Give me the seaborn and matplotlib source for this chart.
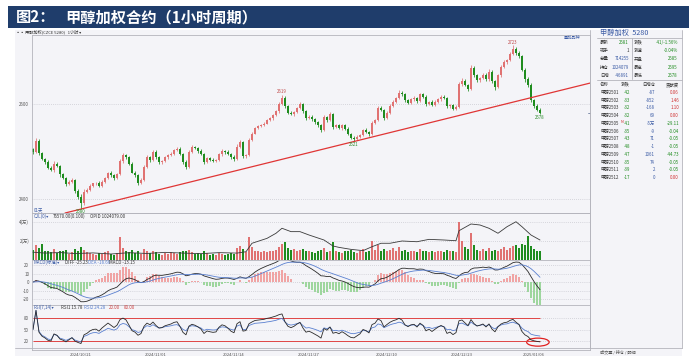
import numpy as np
import pandas as pd
import matplotlib
matplotlib.use('Agg')
import matplotlib.pyplot as plt
import seaborn as sns
from matplotlib.patches import Rectangle, Ellipse
from matplotlib.lines import Line2D

W, H = 689, 356

# 1小时收盘价
close = [2500, 2522, 2497, 2485, 2478, 2466, 2462, 2475, 2470, 2452,
         2445, 2432, 2436, 2440, 2418, 2405, 2392, 2415, 2420, 2428,
         2433, 2434, 2428, 2437, 2445, 2455, 2450, 2445, 2452, 2480,
         2492, 2488, 2475, 2456, 2450, 2435, 2440, 2468, 2488, 2482,
         2500, 2488, 2478, 2480, 2488, 2492, 2496, 2503, 2506, 2496,
         2478, 2468, 2500, 2510, 2507, 2502, 2495, 2478, 2486, 2483,
         2481, 2482, 2494, 2502, 2500, 2495, 2488, 2484, 2510, 2520,
         2490, 2492, 2525, 2538, 2550, 2553, 2556, 2559, 2566, 2570,
         2577, 2585, 2600, 2612, 2595, 2582, 2578, 2583, 2592, 2600,
         2585, 2570, 2573, 2568, 2562, 2555, 2545, 2572, 2566, 2578,
         2552, 2555, 2549, 2555, 2548, 2538, 2529, 2527, 2531, 2535,
         2545, 2542, 2536, 2560, 2566, 2592, 2588, 2570, 2582, 2595,
         2605, 2612, 2624, 2620, 2608, 2603, 2610, 2612, 2606, 2620,
         2615, 2600, 2605, 2598, 2604, 2610, 2615, 2612, 2595, 2598,
         2590, 2594, 2642, 2648, 2640, 2632, 2675, 2660, 2650, 2655,
         2662, 2652, 2668, 2648, 2635, 2660, 2678, 2688, 2692, 2706,
         2715, 2707, 2700, 2672, 2652, 2640, 2608, 2596, 2588, 2582]
first_open = 2505

up_wick = [3, 6, 4, 3, 2, 4, 3, 5, 3, 2, 3, 2, 4, 5, 3, 4, 5, 6, 3, 4,
           2, 3, 4, 3, 2, 3, 4, 2, 3, 4, 5, 3, 2, 4, 3, 2, 5, 3, 4, 3,
           4, 3, 2, 3, 2, 4, 3, 2, 4, 3, 2, 5, 4, 3, 2, 3, 4, 2, 3, 2,
           3, 2, 4, 3, 2, 3, 2, 4, 5, 4, 3, 2, 4, 3, 2, 3, 2, 3, 2, 3,
           2, 3, 4, 7, 5, 3, 4, 3, 2, 4, 3, 2, 4, 3, 2, 3, 2, 4, 3, 5,
           3, 2, 4, 3, 2, 3, 2, 3, 4, 2, 3, 4, 2, 5, 3, 4, 3, 2, 3, 4,
           3, 2, 5, 4, 3, 2, 3, 4, 2, 3, 4, 3, 2, 3, 4, 2, 3, 4, 2, 3,
           2, 3, 5, 6, 4, 3, 6, 5, 3, 2, 4, 3, 5, 3, 2, 4, 3, 4, 2, 3,
           8, 5, 4, 3, 4, 5, 4, 3, 4, 3]
dn_wick = [4, 3, 5, 3, 4, 2, 3, 4, 3, 5, 3, 4, 2, 3, 5, 4, 12, 4, 3, 2,
           3, 4, 2, 3, 4, 2, 3, 4, 3, 2, 3, 4, 3, 2, 4, 5, 3, 2, 3, 4,
           2, 3, 4, 3, 2, 3, 2, 3, 2, 4, 3, 4, 2, 3, 2, 4, 3, 4, 2, 3,
           2, 3, 2, 3, 4, 2, 3, 4, 2, 3, 4, 3, 2, 3, 2, 3, 2, 3, 2, 2,
           3, 2, 3, 2, 4, 3, 2, 3, 2, 3, 4, 3, 2, 3, 4, 3, 4, 2, 3, 2,
           4, 3, 2, 3, 2, 4, 3, 6, 2, 3, 2, 3, 4, 2, 3, 2, 3, 4, 2, 3,
           2, 3, 2, 3, 4, 3, 2, 3, 4, 2, 3, 4, 3, 2, 3, 2, 3, 2, 4, 3,
           3, 2, 3, 4, 3, 5, 2, 3, 4, 3, 2, 3, 4, 3, 5, 2, 3, 2, 3, 2,
           2, 3, 4, 3, 5, 4, 3, 4, 3, 4]

# 成交量 (万手)
volume = [1.1, 1.6, 1.3, 1.7, 0.9, 1.0, 0.8, 1.2, 0.7, 1.0,
          0.9, 1.1, 0.6, 0.8, 1.2, 1.0, 1.4, 1.1, 0.8, 0.7,
          0.6, 0.5, 0.7, 0.6, 0.8, 0.9, 0.6, 0.5, 0.7, 2.4,
          1.3, 0.9, 0.8, 1.1, 0.7, 1.0, 0.6, 1.2, 1.0, 0.7,
          0.9, 0.8, 0.6, 0.5, 0.7, 0.6, 0.8, 0.7, 0.6, 0.8,
          1.0, 0.9, 1.1, 0.8, 0.6, 0.7, 0.6, 0.9, 0.7, 0.5,
          0.6, 0.5, 0.7, 0.6, 0.5, 0.6, 0.7, 0.6, 1.3, 1.5,
          1.2, 0.8, 2.4, 1.4, 1.0, 0.9, 0.8, 0.9, 0.8, 0.9,
          1.0, 1.1, 1.4, 1.7, 1.9, 1.3, 1.1, 1.2, 1.0, 1.1,
          1.2, 1.0, 0.9, 0.8, 0.7, 0.9, 1.1, 1.3, 0.8, 1.0,
          1.9, 0.9, 0.8, 0.7, 0.9, 1.0, 1.1, 0.8, 0.7, 0.9,
          1.2, 0.8, 0.9, 2.0, 1.1, 1.6, 1.0, 1.2, 0.9, 1.1,
          1.3, 1.0, 1.4, 0.9, 1.1, 0.8, 0.9, 1.0, 0.8, 1.2,
          0.9, 1.0, 0.8, 0.9, 0.8, 1.0, 0.9, 0.8, 1.1, 0.9,
          1.0, 0.8, 4.0, 2.0, 1.4, 1.2, 2.8, 1.6, 1.1, 1.0,
          1.2, 0.9, 1.3, 1.0, 1.1, 1.0, 1.2, 1.4, 1.1, 1.3,
          1.5, 1.6, 1.3, 1.7, 1.6, 2.5, 1.5, 1.2, 1.0, 0.9]

# 持仓量 (万手), 折线顶点
oi_idx = [0, 4, 9, 14, 20, 26, 32, 38, 44, 50, 56, 62, 68, 71, 73, 78, 81, 83,
          86, 89, 92, 97, 100, 102, 106, 110, 113, 116, 119, 123, 128, 132,
          137, 141, 142, 146, 149, 152, 155, 158, 161, 163, 166, 169]
oi_val = [89.0, 88.0, 88.6, 87.5, 88.2, 87.0, 88.4, 87.6, 88.8, 88.0, 87.4,
          88.5, 88.0, 89.5, 98.8, 104.2, 109.8, 115.3, 111.6, 111.6, 107.9,
          102.4, 95.8, 94.3, 92.1, 90.7, 95.0, 98.8, 98.8, 101.3, 100.5,
          103.1, 102.4, 101.6, 112.6, 120.0, 118.9, 115.3, 109.8, 117.0,
          122.5, 117.0, 107.9, 102.4]

date_idx = [16, 41, 67, 92, 118, 143, 167]
date_labels = ['2024/10/21', '2024/11/01', '2024/11/14', '2024/11/27',
               '2024/12/10', '2024/12/23', '2025/01/06']

high_marks = [83, 160]
low_marks = [16, 107, 169]

trend_idx = [10.7, 185.7]
trend_price = [2371, 2644]

quote_left = [('最新', '2581'), ('现手', '1'), ('总量', '714255'),
              ('持仓', '1024079'), ('日增', '-46891')]
quote_right = [('涨跌', '-41/-1.56%'), ('涨速', '-0.04%'), ('开盘', '2585'),
               ('最高', '2595'), ('最低', '2578')]
contracts = ['甲醇2501', '甲醇2502', '甲醇2503', '甲醇2504', '甲醇2505',
             '甲醇2506', '甲醇2507', '甲醇2508', '甲醇2509', '甲醇2510',
             '甲醇2511', '甲醇2512']
contract_chg = ['-42', '-33', '-32', '-32', '-41', '-35', '-43', '-48',
                '-47', '-35', '-39', '-17']
contract_oi = ['-87', '-852', '-168', '69', '-5万', '-9', '71', '-1',
               '1061', '74', '2', '0']
contract_contrib = ['0.06', '1.46', '1.10', '0.00', '-29.11', '-0.04',
                    '-0.05', '-0.05', '-44.73', '-0.05', '-0.05', '0.00']

BG = '#f4f4f8'
UP = '#e07272'
DN = '#1f8c1f'
GRID = '#b9b9c2'
EDGE = '#b4b4bc'
TXT = '#555555'
BLUE = '#3b5ba5'


def rect(x0, y0, x1, y1):
    return [x0 / W, 1 - y1 / H, (x1 - x0) / W, (y1 - y0) / H]


def ftext(x, y, s, **kw):
    kw.setdefault('fontsize', 3.2)
    kw.setdefault('va', 'center')
    kw.setdefault('color', '#333333')
    fig.text(x / W, 1 - y / H, s, **kw)


def fline(xs, ys, **kw):
    kw.setdefault('color', EDGE)
    kw.setdefault('lw', 0.6)
    fig.add_artist(Line2D([v / W for v in xs], [1 - v / H for v in ys],
                          transform=fig.transFigure, **kw))


sns.set_theme(style='white')
plt.rcParams['font.family'] = ['Noto Sans CJK SC', 'DejaVu Sans']
plt.rcParams['axes.unicode_minus'] = False

fig = plt.figure(figsize=(W / 100, H / 100), dpi=100)
fig.patch.set_facecolor('white')

fig.add_artist(Rectangle((15 / W, 0), (682 - 15) / W, 1 - 30 / H,
                         transform=fig.transFigure, facecolor=BG,
                         edgecolor='none', zorder=0))
fig.add_artist(Rectangle((8 / W, 1 - 28 / H), (689 - 8) / W, 22 / H,
                         transform=fig.transFigure, facecolor='#1f3d6b',
                         edgecolor='none', zorder=1))
ftext(16, 17, '图2：', color='white', fontsize=11, fontweight='bold')
ftext(65, 17, '甲醇加权合约（1小时周期）', color='white', fontsize=11,
      fontweight='bold')
ftext(16, 31.5, '▪▪ 甲醇加权(CZCE 5280)   1小时 ▾', fontsize=3)

c = np.array(close, dtype=float)
n = len(c)
x = np.arange(n)
o = np.r_[first_open, c[:-1]]
is_up = c >= o
hi = np.maximum(o, c) + np.array(up_wick)
lo = np.minimum(o, c) - np.array(dn_wick)
cols = np.where(is_up, UP, DN)

ax_main = fig.add_axes(rect(32, 35, 590, 213))
ax_vol = fig.add_axes(rect(32, 213, 590, 260), sharex=ax_main)
ax_macd = fig.add_axes(rect(32, 260, 590, 305), sharex=ax_main)
ax_rsi = fig.add_axes(rect(32, 305, 590, 350), sharex=ax_main)
ax_main.set_zorder(3)

for ax in (ax_main, ax_vol, ax_macd, ax_rsi):
    ax.set_facecolor(BG)
    for sp in ax.spines.values():
        sp.set_color(EDGE)
        sp.set_linewidth(0.6)
    ax.tick_params(axis='y', length=0, pad=2, labelsize=3.2, labelcolor=TXT)
    ax.tick_params(axis='x', length=0, labelbottom=False)
    ax.yaxis.grid(True, linestyle=(0, (1, 2)), color=GRID, lw=0.5)
    ax.xaxis.grid(False)
    ax.set_axisbelow(True)

ax_main.set_xlim(-0.33, 185.67)

# K线
ax_main.vlines(x, lo, hi, colors=cols, lw=0.55)
body = np.maximum(np.abs(c - o), 0.8)
ax_main.bar(x, body, bottom=np.minimum(o, c), width=0.6, color=cols, lw=0)
sns.lineplot(x=trend_idx, y=trend_price, ax=ax_main, color='#e03535', lw=0.9)
ax_main.set_ylim(2371, 2745)
ax_main.set_yticks([2400, 2600])
for i in high_marks:
    ax_main.text(i, hi[i] + 2, f'{hi[i]:.0f}', fontsize=3.2, color='#c04848',
                 ha='center', va='bottom')
for i in low_marks:
    ax_main.text(i, lo[i] - 1.5, f'{lo[i]:.0f}', fontsize=3.2,
                 color='#2a8a2a', ha='center', va='top', clip_on=False,
                 zorder=5)
ax_main.plot([185.0, 185.67], [c[-1], c[-1]], color='#7080a0', lw=0.6,
             clip_on=False)
ftext(34, 209.5, '01天', color=BLUE)
ftext(572, 37.5, '叠加品种', color=BLUE, ha='center', fontsize=3)

# 成交量 + 持仓
ax_vol.bar(x, volume, width=0.6, color=cols, lw=0)
ax_vol.set_ylim(0, 4.95)
ax_vol.set_yticks([2, 4], ['2(万)', '4(万)'])
ax_oi = ax_vol.twinx()
sns.lineplot(x=oi_idx, y=oi_val, ax=ax_oi, color='#3a3a3a', lw=0.6)
ax_oi.set_ylim(80.4, 132.1)
ax_oi.set_yticks([])
ax_oi.set_ylabel('')
for sp in ax_oi.spines.values():
    sp.set_visible(False)
ftext(34, 216.5, 'CJL(0)▾', color=BLUE)
ftext(53, 216.5, '76570.00(0.100)')
ftext(90, 216.5, 'OPID 1024079.00')

# MACD
s = pd.Series(c)
diff = s.ewm(span=12, adjust=False).mean() - s.ewm(span=26, adjust=False).mean()
dea = diff.ewm(span=9, adjust=False).mean()
macd = 2 * (diff - dea)
ax_macd.bar(x, macd, width=0.6, color=np.where(macd >= 0, '#f0a4a4', '#9ed69e'),
            lw=0)
sns.lineplot(x=x, y=diff.values, ax=ax_macd, color='#2a2a2a', lw=0.6)
sns.lineplot(x=x, y=dea.values, ax=ax_macd, color='#5a80d0', lw=0.6)
ax_macd.set_ylim(-27, 26)
ax_macd.set_yticks([-20, -10, 0, 10, 20])
ftext(34, 262.5, 'MACD(标准)▾', color=BLUE)
ftext(65, 262.5, 'DIFF -25.23')
ftext(88, 262.5, 'DEA -18.66', color='#5a80d0')
ftext(109, 262.5, 'MACD -13.15')

# RSI


def rsi(series, period):
    d = series.diff().fillna(0)
    gain = d.clip(lower=0).ewm(alpha=1 / period, adjust=False).mean()
    move = d.abs().ewm(alpha=1 / period, adjust=False).mean()
    return (gain / move.replace(0, np.nan) * 100).fillna(50)


rsi1 = rsi(s, 7)
rsi2 = rsi(s, 14)
ax_rsi.hlines([80, 20], 0, n - 1, color='#e04545', lw=0.7)
sns.lineplot(x=x, y=rsi2.values, ax=ax_rsi, color='#5a80d0', lw=0.6)
sns.lineplot(x=x, y=rsi1.values, ax=ax_rsi, color='#2a2a2a', lw=0.6)
ax_rsi.set_ylim(-3.5, 114)
ax_rsi.set_yticks([20, 50, 80])
ax_rsi.add_patch(Ellipse((168.3, 17), 7.5, 21, fill=False, ec='#e02020',
                         lw=0.9, clip_on=False))
ax_rsi.set_xticks(date_idx, date_labels)
ax_rsi.tick_params(axis='x', labelbottom=True, labelsize=3, labelcolor=TXT,
                   pad=1.5)
ftext(34, 307.5, 'RSI(7,14)▾', color=BLUE)
ftext(61, 307.5, 'RSI1 15.78')
ftext(84, 307.5, 'RSI2 24.28', color='#5a80d0')
ftext(109, 307.5, '20.00', color='#d04040')
ftext(124, 307.5, '80.00', color='#d04040')

# 右侧报价面板
fline([590, 590], [30, 348])
fline([682, 682], [30, 348])
fline([15, 682], [348, 348])
fline([597, 682], [37.5, 37.5])
fline([597, 682], [80, 80])
fline([631.5, 631.5], [38, 79])
ftext(600, 32.5, '甲醇加权  5280', color=BLUE, fontsize=5.2)

quote_y = [42.3, 50.7, 59.0, 67.3, 75.5]
left_cols = ['#1f8c1f', '#333333', BLUE, BLUE, BLUE]
for yy, (lab, val), vc in zip(quote_y, quote_left, left_cols):
    ftext(600, yy, lab)
    ftext(629, yy, val, ha='right', color=vc)
for yy, (lab, val) in zip(quote_y, quote_right):
    ftext(634, yy, lab)
    ftext(678, yy, val, ha='right', color='#1f8c1f')

ftext(600, 84.3, '名称')
ftext(630, 84.3, '涨跌', ha='right')
ftext(655, 84.3, '日增仓', ha='right')
ftext(679, 84.3, '贡献度', ha='right')
for k, name in enumerate(contracts):
    yy = 92.3 + 7.75 * k
    ftext(600, yy, name)
    if name.endswith('2505'):
        ftext(621, yy - 1.2, 'M', color='#d03030', fontsize=2.4)
    ftext(630, yy, contract_chg[k], ha='right', color='#1f8c1f')
    ftext(655, yy, contract_oi[k], ha='right', color=BLUE)
    cc = '#1f8c1f' if contract_contrib[k].startswith('-') else '#d03030'
    ftext(679, yy, contract_contrib[k], ha='right', color=cc)

ftext(600, 352.3, '成交量 / 持仓 / 明细', fontsize=3, color=TXT)

fig.savefig('out.png', dpi=100, facecolor=fig.get_facecolor())
